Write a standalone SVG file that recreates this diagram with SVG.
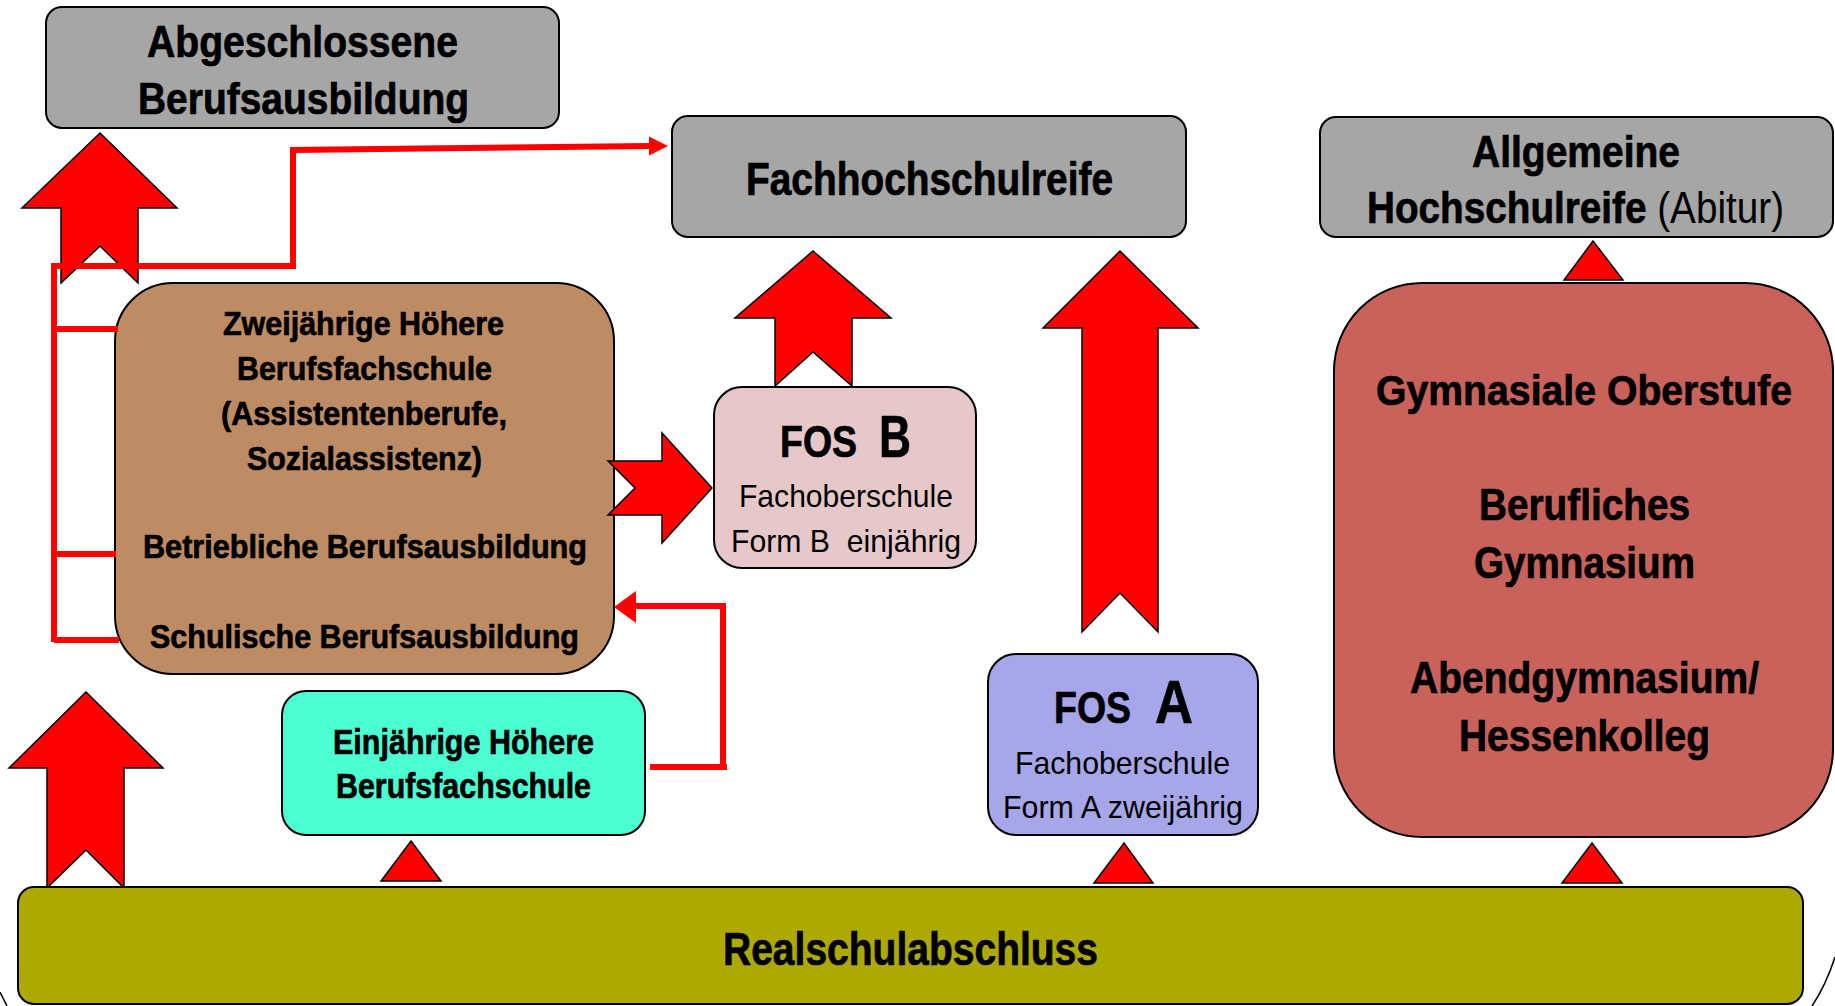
<svg xmlns="http://www.w3.org/2000/svg" width="1835" height="1006" viewBox="0 0 1835 1006">
<style>
.box{stroke:#000;stroke-width:2}
.gray{fill:#A6A6A6}
.arr{fill:#FF0000;stroke:#000;stroke-width:1.5;stroke-linejoin:miter}
.ln{fill:none;stroke:#FF0000;stroke-width:6}
.hd{fill:#FF0000}
text{font-family:"Liberation Sans",Arial,sans-serif;fill:#000;text-anchor:middle}
.b{font-weight:bold;stroke:#000;stroke-width:0.7}
.t44{font-size:44px}
.t34{font-size:34px}
.t32{font-size:32px}
.thin{fill:none;stroke:#000;stroke-width:1.5}
</style>
<rect width="1835" height="1006" fill="#FFFFFF"/>

<g id="abgeschlossene">
<rect class="box gray" x="46" y="7" width="513" height="121" rx="16"/>
<text class="b t44" x="302.5" y="57" textLength="311" lengthAdjust="spacingAndGlyphs">Abgeschlossene</text>
<text class="b t44" x="303.5" y="114" textLength="331" lengthAdjust="spacingAndGlyphs">Berufsausbildung</text>
</g>

<g id="fachhochschulreife">
<rect class="box gray" x="672" y="116" width="514" height="121" rx="16"/>
<text class="b" style="font-size:46px" x="929.5" y="195" textLength="367" lengthAdjust="spacingAndGlyphs">Fachhochschulreife</text>
</g>

<g id="allgemeine">
<rect class="box gray" x="1320" y="117" width="513" height="120" rx="16"/>
<text class="b" style="font-size:45px" x="1576" y="167" textLength="208" lengthAdjust="spacingAndGlyphs">Allgemeine</text>
<text style="font-size:45px;text-anchor:start" transform="translate(1367,223) scale(0.86,1)" x="0" y="0"><tspan class="b">Hochschulreife</tspan> (Abitur)</text>
</g>

<g id="arrows-block">
<polygon class="arr" points="100,133 177,208 138,208 138,283 100,246 61,283 61,208 22,208"/>
<polygon class="arr" points="86,692 163,768 124,768 124,888 86,850 47,888 47,768 9,768"/>
<polygon class="arr" points="813,251 891,318 852,318 852,386 813,352 775,386 775,318 735,318"/>
<polygon class="arr" points="1120,251 1198,328 1158,328 1158,632 1120,593 1082,632 1082,328 1043,328"/>
<polygon class="arr" points="1593,241 1623,280 1564,280"/>
<polygon class="arr" points="411,841 441,881 381,881"/>
<polygon class="arr" points="1124,843 1153,883 1094,883"/>
<polygon class="arr" points="1592,843 1622,883 1562,883"/>
</g>

<g id="zweijaehrige">
<rect class="box" fill="#BE8C64" x="115" y="283" width="499" height="391" rx="58"/>
<text class="b t34" x="363.5" y="335" textLength="281" lengthAdjust="spacingAndGlyphs">Zweijährige Höhere</text>
<text class="b t34" x="364.5" y="380" textLength="255" lengthAdjust="spacingAndGlyphs">Berufsfachschule</text>
<text class="b t34" x="364" y="425" textLength="286" lengthAdjust="spacingAndGlyphs">(Assistentenberufe,</text>
<text class="b t34" x="364.5" y="470" textLength="235" lengthAdjust="spacingAndGlyphs">Sozialassistenz)</text>
<text class="b t34" x="365" y="558" textLength="444" lengthAdjust="spacingAndGlyphs">Betriebliche Berufsausbildung</text>
<text class="b t34" x="364.5" y="648" textLength="429" lengthAdjust="spacingAndGlyphs">Schulische Berufsausbildung</text>
</g>

<polygon class="arr" points="712,488 662,543 662,515 608,515 635,488 608,461 662,461 662,433"/>

<g id="fos-b">
<rect class="box" fill="#E6C8CA" x="714" y="387" width="262" height="181" rx="28"/>
<text class="b t44" style="text-anchor:start" x="780" y="457" textLength="77" lengthAdjust="spacingAndGlyphs">FOS</text>
<text class="b" style="font-size:60px;text-anchor:start" x="879" y="457" textLength="32" lengthAdjust="spacingAndGlyphs">B</text>
<text class="t32" x="846" y="507" textLength="214" lengthAdjust="spacingAndGlyphs">Fachoberschule</text>
<text class="t32" x="846" y="552" xml:space="preserve" textLength="230" lengthAdjust="spacingAndGlyphs">Form B  einjährig</text>
</g>

<g id="fos-a">
<rect class="box" fill="#A6A6E8" x="988" y="654" width="270" height="181" rx="28"/>
<text class="b t44" style="text-anchor:start" x="1054" y="723" textLength="77" lengthAdjust="spacingAndGlyphs">FOS</text>
<text class="b" style="font-size:62px;text-anchor:start" x="1155" y="723" textLength="38" lengthAdjust="spacingAndGlyphs">A</text>
<text class="t32" x="1122.5" y="774" textLength="215" lengthAdjust="spacingAndGlyphs">Fachoberschule</text>
<text class="t32" x="1123" y="818" textLength="240" lengthAdjust="spacingAndGlyphs">Form A zweijährig</text>
</g>

<g id="einjaehrige">
<rect class="box" fill="#4BFFD2" x="282" y="691" width="363" height="144" rx="24"/>
<text class="b" style="font-size:35px" x="463.5" y="754" textLength="261" lengthAdjust="spacingAndGlyphs">Einjährige Höhere</text>
<text class="b" style="font-size:35px" x="463.5" y="798" textLength="255" lengthAdjust="spacingAndGlyphs">Berufsfachschule</text>
</g>

<g id="gymnasium">
<rect class="box" fill="#C9625A" x="1334" y="283" width="499" height="554" rx="88"/>
<text class="b" style="font-size:43px" x="1584" y="405" textLength="416" lengthAdjust="spacingAndGlyphs">Gymnasiale Oberstufe</text>
<text class="b t44" x="1584.5" y="520" textLength="211" lengthAdjust="spacingAndGlyphs">Berufliches</text>
<text class="b t44" x="1584.5" y="578" textLength="221" lengthAdjust="spacingAndGlyphs">Gymnasium</text>
<text class="b t44" x="1584.5" y="693" textLength="349" lengthAdjust="spacingAndGlyphs">Abendgymnasium/</text>
<text class="b t44" x="1584.5" y="751" textLength="251" lengthAdjust="spacingAndGlyphs">Hessenkolleg</text>
</g>

<g id="realschulabschluss">
<rect class="box" fill="#ACA900" x="18" y="887" width="1785" height="117" rx="16"/>
<text class="b" style="font-size:46px" x="910.5" y="965" textLength="375" lengthAdjust="spacingAndGlyphs">Realschulabschluss</text>
</g>

<g id="connectors">
<path class="ln" d="M54,642 V266 H293 V150 L650,146"/>
<polygon class="hd" points="668,146 649,136.5 649,155.5"/>
<path class="ln" d="M54,329 H118 M54,554 H116 M54,640 H119"/>
<path class="ln" d="M650,767 H727 M723,767 V606 H634"/>
<polygon class="hd" points="614,607 636,591 636,623"/>
</g>

<path class="thin" d="M0,992 L7,1006"/>
<path class="thin" d="M1835,957 Q1826,985 1812,1006"/>
</svg>
